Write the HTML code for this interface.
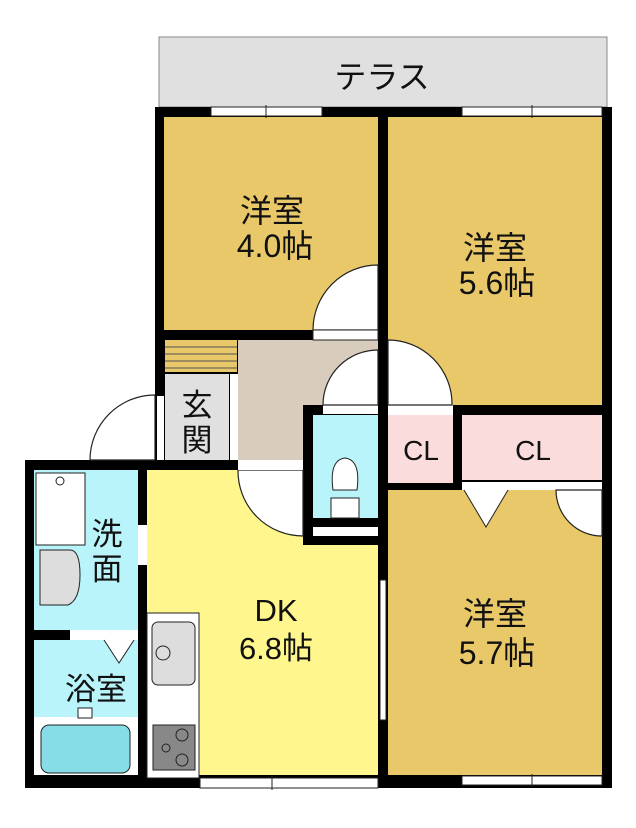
<!DOCTYPE html><html><head><style>body{margin:0;background:#fff}svg{display:block}text{font-family:"Liberation Sans","Noto Sans CJK JP",sans-serif;fill:#111}</style></head><body>
<svg width="636" height="828" viewBox="0 0 636 828">
<rect x="159" y="37" width="448" height="70" fill="#e0e0e0" stroke="#888" stroke-width="1"/>
<text x="382" y="88" font-size="32" text-anchor="middle">テラス</text>
<rect x="155" y="107" width="457" height="233" fill="#000"/>
<rect x="25" y="460" width="360" height="328" fill="#000"/>
<rect x="378" y="107" width="234" height="681" fill="#000"/>
<rect x="155" y="330" width="85" height="140" fill="#000"/>
<rect x="164" y="117" width="214" height="213" fill="#e8c869"/>
<rect x="388" y="117" width="214" height="288" fill="#e8c869"/>
<rect x="388" y="490" width="214" height="285" fill="#e8c869"/>
<rect x="238" y="340" width="140" height="120" fill="#d8cdbd"/>
<rect x="165" y="340" width="72" height="32" fill="#e8c869"/>
<g stroke="#555" stroke-width="1"><line x1="165" y1="347" x2="237" y2="347"/><line x1="165" y1="354" x2="237" y2="354"/><line x1="165" y1="361" x2="237" y2="361"/><line x1="165" y1="368" x2="237" y2="368"/></g>
<rect x="165" y="374" width="64" height="86" fill="#e0e0e0"/>
<rect x="230" y="374" width="8" height="86" fill="#fff"/>
<rect x="157" y="396" width="7" height="64" fill="#fff"/>
<text x="197" y="416" font-size="31" text-anchor="middle">玄</text>
<text x="197" y="451" font-size="31" text-anchor="middle">関</text>
<rect x="147" y="470" width="231" height="305" fill="#fff78e"/>
<rect x="147" y="613" width="52" height="165" fill="#fff" stroke="#222" stroke-width="1"/>
<rect x="152" y="622" width="43" height="63" rx="6" fill="#ddd" stroke="#222"/>
<circle cx="163" cy="653" r="7" fill="#ddd" stroke="#222"/>
<rect x="153" y="725" width="42" height="45" fill="#888" stroke="#222"/>
<circle cx="182" cy="735" r="6" fill="none" stroke="#222"/><circle cx="182" cy="760" r="6" fill="none" stroke="#222"/><circle cx="166" cy="748" r="4" fill="none" stroke="#222"/>
<rect x="200" y="778" width="178" height="10" fill="#fff" stroke="#222" stroke-width="1"/>
<line x1="272" y1="776" x2="272" y2="790" stroke="#222"/>
<text x="276" y="621" font-size="31" text-anchor="middle">DK</text>
<text x="276" y="659" font-size="31" text-anchor="middle">6.8帖</text>
<rect x="34" y="470" width="104" height="160" fill="#b8f4fa"/>
<rect x="36" y="473" width="49" height="72" fill="#fff" stroke="#222"/>
<circle cx="60" cy="481" r="4" fill="none" stroke="#222"/>
<path d="M40 550 h30 q10 0 10 25 q0 25 -12 30 h-28 z" fill="#ddd" stroke="#222"/>
<rect x="138" y="525" width="9" height="40" fill="#fff"/>
<text x="107" y="545" font-size="31" text-anchor="middle">洗</text>
<text x="107" y="580" font-size="31" text-anchor="middle">面</text>
<rect x="34" y="640" width="104" height="135" fill="#b8f4fa"/>
<rect x="70" y="630" width="68" height="10" fill="#fff"/>
<path d="M104 640 L119 663 L134 640" fill="#fff" stroke="#222"/>
<rect x="34" y="717" width="104" height="58" fill="#fff"/>
<rect x="41" y="725" width="89" height="48" rx="8" fill="#86dde8" stroke="#222"/>
<rect x="78" y="708" width="14" height="10" fill="#fff" stroke="#222"/>
<text x="96" y="700" font-size="31" text-anchor="middle">浴室</text>
<rect x="303" y="405" width="85" height="140" fill="#000"/>
<rect x="313" y="415" width="65" height="103" fill="#b8f4fa"/>
<rect x="313" y="527" width="65" height="9" fill="#fff"/>
<path d="M333 490 q-4-30 12-32 q16 2 12 32 z" fill="#fff" stroke="#222"/>
<rect x="331" y="498" width="28" height="20" fill="#fff" stroke="#222"/>
<rect x="323" y="405" width="55" height="9" fill="#fff"/>
<rect x="388" y="415" width="65" height="68" fill="#fadcdc"/>
<rect x="462" y="415" width="140" height="65" fill="#fadcdc"/>
<rect x="462" y="482" width="140" height="8" fill="#fff"/>
<rect x="388" y="405" width="65" height="10" fill="#fff"/>
<text x="421" y="460" font-size="28" text-anchor="middle">CL</text>
<text x="533" y="460" font-size="28" text-anchor="middle">CL</text>
<path d="M464 490 L486 527 L508 490" fill="#fff" stroke="#222"/>
<g fill="#fff" stroke="#222" stroke-width="1.2">
<path d="M378 330 L313 330 A65 65 0 0 1 378 265 Z"/>
<path d="M388 405 L388 340 A64 64 0 0 1 452 405 Z"/>
<path d="M378 405 L323 405 A55 55 0 0 1 378 350 Z"/>
<path d="M155 460 L90 460 A65 65 0 0 1 155 395 Z"/>
<path d="M238 470 L303 470 L303 536 A65 65 0 0 1 238 470 Z"/>
<path d="M602 490 L556 490 A46 46 0 0 0 602 536 Z"/>
</g>
<rect x="313" y="330" width="65" height="10" fill="#fff" stroke="#222" stroke-width="1"/>
<rect x="238" y="460" width="65" height="10" fill="#fff"/>
<rect x="380" y="580" width="6" height="140" fill="#fff" stroke="#222" stroke-width="1"/>
<g fill="#fff" stroke="#222" stroke-width="1"><rect x="211" y="107" width="111" height="9"/><rect x="462" y="107" width="140" height="9"/></g>
<line x1="266" y1="105" x2="266" y2="118" stroke="#222"/><line x1="532" y1="105" x2="532" y2="118" stroke="#222"/>
<rect x="462" y="776" width="140" height="9" fill="#fff" stroke="#222"/>
<line x1="532" y1="774" x2="532" y2="787" stroke="#222"/>
<text x="272" y="222" font-size="32" text-anchor="middle">洋室</text>
<text x="275" y="257" font-size="32" text-anchor="middle">4.0帖</text>
<text x="495" y="259" font-size="32" text-anchor="middle">洋室</text>
<text x="497" y="294" font-size="32" text-anchor="middle">5.6帖</text>
<text x="495" y="625" font-size="32" text-anchor="middle">洋室</text>
<text x="497" y="664" font-size="32" text-anchor="middle">5.7帖</text>
</svg></body></html>
